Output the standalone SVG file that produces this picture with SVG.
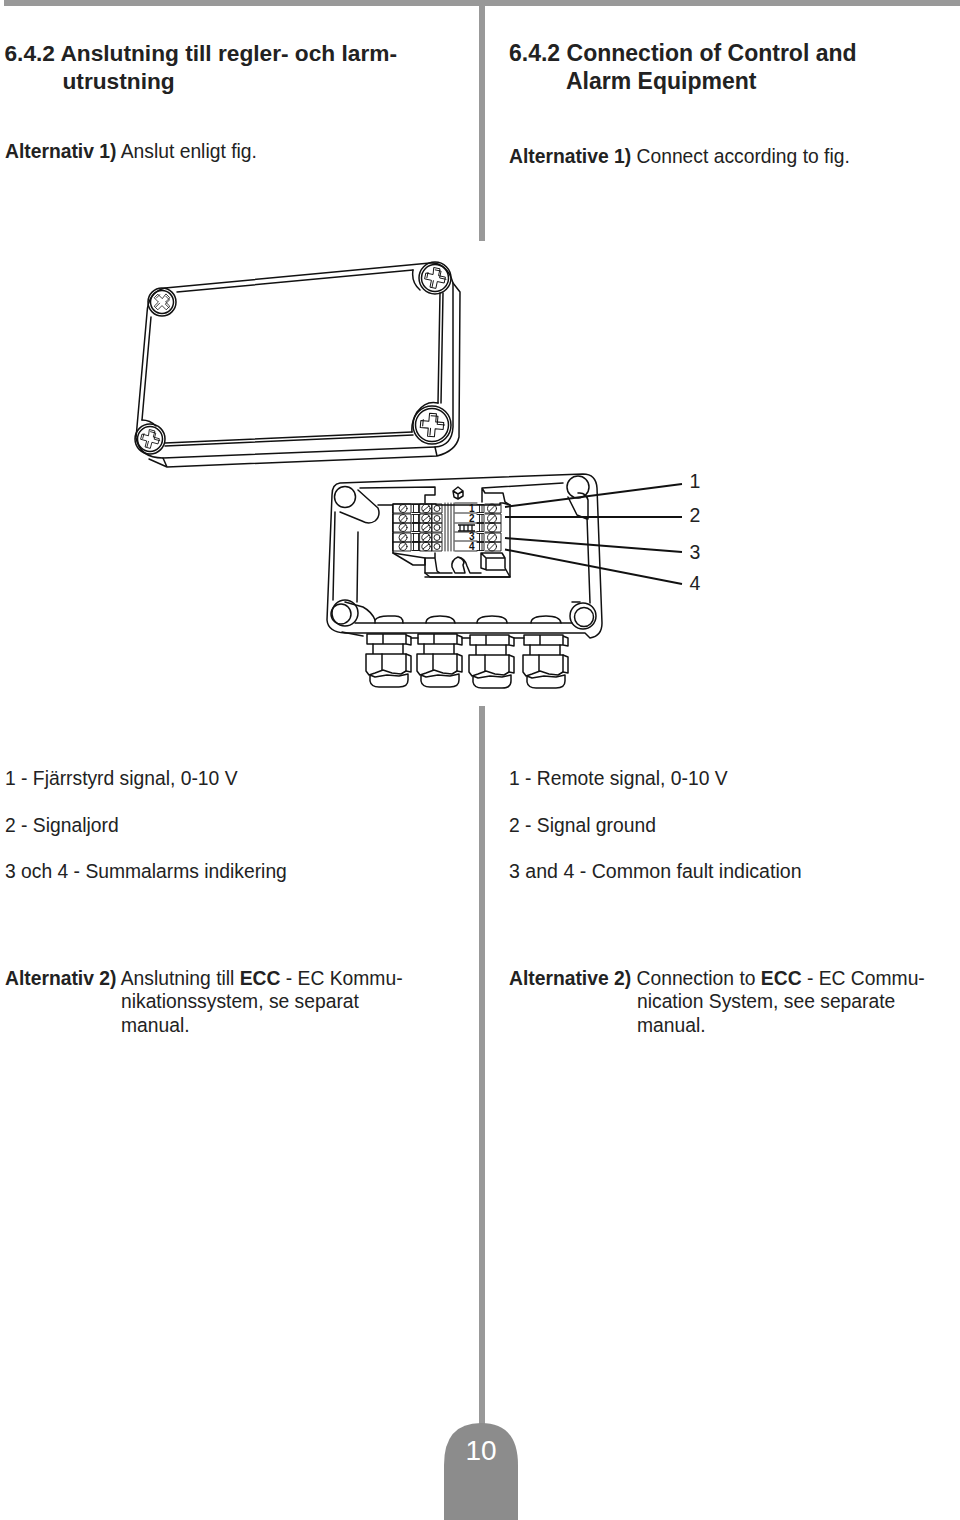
<svg xmlns="http://www.w3.org/2000/svg" width="960" height="1520" viewBox="0 0 960 1520">
<style>
text{font-family:"Liberation Sans",Arial,sans-serif;fill:#222}
.h{font-size:22.7px;font-weight:bold}
.hr{font-size:23px;font-weight:bold}
.b{font-size:19.3px}
.n{font-size:19.5px;text-anchor:middle}
.d{font-size:10px;font-weight:bold;fill:#111}
.s{fill:none;stroke:#111;stroke-width:1.5;stroke-linejoin:round;stroke-linecap:round}
.t{stroke-width:.9}
.w{fill:#fff}
.l{fill:none;stroke:#111;stroke-width:2}
</style>
<defs>
<g id="gland">
<path d="M0 0H39V10H0ZM16 0V10M39 1L44 3V11L39 10" class="s w"/>
<path d="M6 10V20M36 10V20" class="s"/>
<path d="M-1 20H39V37L34 40L25 39L16 36L8 39L2 41L-1 37Z" class="s w"/>
<path d="M15 20V36M39 20L44 22V38L39 37" class="s"/>
<path d="M3 41L8 43L20 41L32 42L41 40M3 42V47Q4 53 12 53H32Q41 53 41 46V40" class="s"/>
</g>
<g id="cell" class="s t">
<rect x="0" y="0" width="18" height="9"/>
<circle cx="10" cy="4.500" r="4"/><path d="M7.500 7L12.500 2"/>
<path d="M19 0.500H27M20.500 0.500V8.500H25.500V0.500M19 8.500H27"/>
<rect x="27" y="0" width="12" height="9"/>
<circle cx="33" cy="4.500" r="4.200"/><path d="M30 7L36 2"/>
<rect x="39" y="0" width="10" height="9"/>
<circle cx="44" cy="4.500" r="3"/>
</g>
<g id="right" class="s t">
<path d="M0 0.500H7V8.500H0M2.500 0.500V8.500M5 0.500V8.500"/>
<circle cx="15" cy="4.500" r="4.500"/><path d="M12 7.500L18 1.500"/>
<path d="M8 0H24V9H8"/>
</g>
<g id="screw" class="s t">
<path d="M-3 -10H3V-3H10V3H3V10H-3V3H-10V-3H-3Z"/>
<path d="M-1.500 -8H4.500V-1H11M-8 1.500V-4M-1 9V3"/>
</g>
</defs>

<g id="dividers" fill="#999">
<rect x="4" y="0" width="956" height="6"/>
<rect x="479" y="5" width="6" height="236"/>
<rect x="479" y="706" width="6" height="720"/>
</g>
<g id="page-tab">
<path d="M444 1520V1465Q444 1423 481 1423Q518 1423 518 1465V1520Z" fill="#8c8c8c"/>
<text x="481" y="1460" text-anchor="middle" font-size="28" style="fill:#fff">10</text>
</g>

<g id="text-left">
<text class="h" x="4.500" y="61">6.4.2 Anslutning till regler- och larm-</text>
<text class="h" x="62.500" y="89">utrustning</text>
<text class="b" x="5" y="158"><tspan font-weight="bold">Alternativ 1)</tspan> Anslut enligt fig.</text>
<text class="b" x="5" y="785">1 - Fjärrstyrd signal, 0-10 V</text>
<text class="b" x="5" y="832">2 - Signaljord</text>
<text class="b" x="5" y="878">3 och 4 - Summalarms indikering</text>
<text class="b" x="5" y="985"><tspan font-weight="bold">Alternativ 2)</tspan> Anslutning till <tspan font-weight="bold">ECC</tspan> - EC Kommu-</text>
<text class="b" x="121" y="1008">nikationssystem, se separat</text>
<text class="b" x="121" y="1032">manual.</text>
</g>
<g id="text-right">
<text class="hr" x="509" y="61">6.4.2 Connection of Control and</text>
<text class="hr" x="566" y="89">Alarm Equipment</text>
<text class="b" x="509" y="163"><tspan font-weight="bold">Alternative 1)</tspan> Connect according to fig.</text>
<text class="b" x="509" y="785">1 - Remote signal, 0-10 V</text>
<text class="b" x="509" y="832">2 - Signal ground</text>
<text class="b" x="509" y="878" style="font-size:19.57px">3 and 4 - Common fault indication</text>
<text class="b" x="509" y="985"><tspan font-weight="bold">Alternative 2)</tspan> Connection to <tspan font-weight="bold">ECC</tspan> - EC Commu-</text>
<text class="b" x="637" y="1008">nication System, see separate</text>
<text class="b" x="637" y="1032">manual.</text>
</g>

<g id="cover">
<path class="s" d="M165 288L430 263Q447 262 453 283V427Q452 446 435 447L163 458Q140 458 136 438L147 313Q148 292 165 288Z"/>
<path class="s" d="M177 292L413 270M440 293L438 403M443 293L441 403M165 443L412 432M165 446L413 435M151 317L142 420"/>
<path class="s" d="M453 283L460 292L459 437Q456 451 437 456L167 467L149 459M163 458L167 467M435 447L437 456"/>
<path class="s" d="M413 270Q411 282 420 290M438 403Q426 400 417 412Q411 422 412 432M142 420Q150 420 156 426"/>
<circle class="s" cx="162" cy="302" r="14"/><circle class="s" cx="162" cy="302" r="11.500"/>
<circle class="s" cx="435" cy="278" r="16"/><circle class="s" cx="435" cy="278" r="13.500"/>
<circle class="s" cx="432" cy="425" r="19"/><circle class="s" cx="432" cy="425" r="16.500"/>
<circle class="s" cx="150" cy="439" r="15"/><circle class="s" cx="150" cy="439" r="12.500"/>
<use href="#screw" transform="translate(162 302) rotate(45) scale(.85)"/>
<use href="#screw" transform="translate(435 278) rotate(12)"/>
<use href="#screw" transform="translate(432 425) rotate(5) scale(1.150)"/>
<use href="#screw" transform="translate(150 439) rotate(15) scale(.9)"/>
</g>

<g id="box">
<path class="s" d="M340 483L583 474Q596 474 597 488L602 623Q602 636 590 638L585 633L345 633Q328 632 327 620L332 495Q332 484 340 483Z"/>
<path class="s" d="M342 632L363 636"/>
<path class="s" d="M360 488L435 487V495H425V503M482 502V488L485 493H503L505 502L510 505M482 488L563 483M587 517L590 603M355 623H572"/>
<path class="s" d="M335 512L333 600M358 532L357 602"/>
<circle class="s" cx="345" cy="497" r="10.500"/>
<circle class="s" cx="578" cy="487" r="11"/>
<circle class="s" cx="341" cy="614" r="10"/><circle class="s" cx="345" cy="613" r="13"/>
<circle class="s" cx="583" cy="616" r="13"/><circle class="s" cx="584" cy="617" r="9.500"/>
<path class="s" d="M358 490L378 508Q381 516 375 521Q369 525 362 521L340 512M378 505H393"/>
<path class="s" d="M568 497L577 515L587 519M578 493Q586 492 588 500V519M345 602L363 607Q372 612 375 620M572 602H580"/>
<path class="s" d="M375 623V620Q378 616 388 616H395Q403 616 403 623M426 623Q426 616 440 616Q454 616 455 623M477 623Q477 616 492 616Q507 616 507 623M531 623Q531 616 546 616Q560 616 561 623"/>
<path class="s w" d="M453 491L458 487L463 491V496L458 499L454 497ZM453 491L458 494L463 491M458 494V499"/>
<path class="s w" d="M393 504H436V505H500V503H503L510 505V577H430L425 573V558L393 553Z"/>
<path class="s" d="M393 553L413 565H425V558H435V553M435 558L437 571L440 573H452M425 573H440M425 577H510M510 577L505 568V558L502 553H481V568L487 570H505M481 553L486 558H505M486 558V570"/>
<path class="s" d="M458 557Q451 560 452 567L455 573H465L463 565Q466 560 458 557ZM458 557Q465 558 467 566L470 573H481"/>
<g id="terminals">
<use href="#cell" x="393" y="504"/><use href="#cell" x="393" y="514"/><use href="#cell" x="393" y="523"/><use href="#cell" x="393" y="533"/><use href="#cell" x="393" y="542"/>
<use href="#right" x="477" y="504"/><use href="#right" x="477" y="514"/><use href="#right" x="477" y="523"/><use href="#right" x="477" y="533"/><use href="#right" x="477" y="542"/>
<path class="s t" d="M445 503V551M448 503V551M451 503V551M454 503V551M455 503H477M455 513H477M455 523H477M455 532H477M455 541H477M455 551H477"/>
<path d="M458 525H475M458 531H475M460 525V531M464 525V531M468 525V531M472 525V531" fill="none" stroke="#111" stroke-width="1.300"/>
<text class="d" x="469" y="512">1</text>
<text class="d" x="469" y="522">2</text>
<text class="d" x="469" y="540">3</text>
<text class="d" x="469" y="550">4</text>
</g>
<use href="#gland" x="367" y="634"/>
<use href="#gland" x="418" y="634"/>
<use href="#gland" x="470" y="635"/>
<use href="#gland" x="524" y="635"/>
<path class="s" d="M411 638H418M462 638H470M514 638H524"/>
</g>

<g id="connectors">
<path class="l" d="M505 507L682 484M505 517H682M505 538L682 552M505 549.500L682 584"/>
</g>
<g id="callouts">
<text class="n" x="695" y="488">1</text>
<text class="n" x="695" y="522">2</text>
<text class="n" x="695" y="559">3</text>
<text class="n" x="695" y="590">4</text>
</g>
</svg>
